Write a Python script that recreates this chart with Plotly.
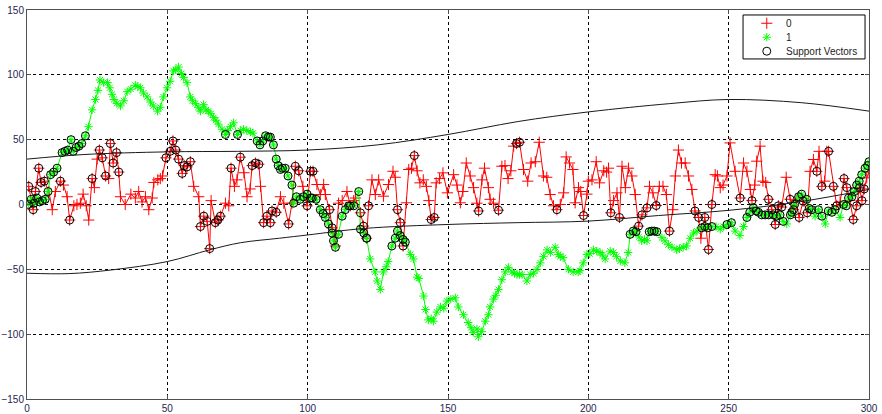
import plotly.graph_objects as go

# ---- class "0" samples (red) ----
red_x = [
    0.6, 1.9, 2.2, 3, 4.2, 5, 6.2, 7.8, 9, 10.1,
    11.9, 13, 14.3, 15.2, 16.7, 17.8, 19, 20, 21.1, 22,
    23.2, 24, 25, 25.8, 26.8, 28, 29.1, 29.7, 30.7, 31.9,
    32.7, 33.3, 35, 37, 38.6, 39.8, 41, 42.2, 43.4, 44.6,
    45.2, 46.6, 47.5, 48.3, 49.5, 51, 52, 53, 54, 55.3,
    56, 57, 58.2, 59.4, 61.2, 61.8, 63, 64.2, 65.1, 65.6,
    67.1, 68, 68.9, 70.7, 71.9, 72.7, 73.9, 74.8, 76, 77.3,
    78.4, 79.5, 80.2, 81.4, 82.6, 83.2, 84.3, 85.5, 86.7, 87.3,
    88.8, 90.3, 91.5, 93.2, 94.4, 95.6, 96.8, 98.3, 99.8, 101,
    101.9, 103.3, 104.5, 105.7, 106.3, 107.8, 108.7, 109.9, 111, 112.3,
    114, 115.2, 116.4, 117, 118.8, 119.9, 121, 121.7, 122.9, 124.1,
    125.3, 127, 128.8, 130.4, 131.2, 132, 133, 134, 135.2, 136,
    137, 138, 139, 140, 141.2, 142.3, 143.2, 144, 145.1, 145.8,
    147, 148.2, 149.8, 152, 153.2, 154.4, 155.3, 156.5, 157.9, 159.1,
    160.3, 160.9, 162.1, 163, 164.4, 165, 166.2, 168, 169.2, 170.3,
    171.4, 172.4, 173.4, 174.4, 175.5, 176.9, 178.4, 179.6, 181.1, 182.5,
    184, 185.2, 186.4, 187.6, 188.8, 190, 191.2, 192.1, 193.3, 194.5,
    195.3, 196.5, 197.3, 198.3, 199.5, 200, 201.3, 202.8, 204, 205.5,
    206.5, 207.2, 208, 209, 210.2, 211.1, 212, 213.2, 214.3, 215.5,
    216.7, 217.9, 219.1, 220.9, 221.8, 223, 224.2, 225.3, 226.6, 227.8,
    228.9, 230.1, 231, 232.1, 233.2, 234.5, 235.7, 236.9, 238, 239.3,
    240.1, 241.5, 242.8, 244, 245.2, 246, 247, 248, 249.4, 250.5,
    252.3, 254.1, 255.3, 256.5, 257.7, 258.3, 259.3, 260, 261.2, 262.2,
    263.2, 264.2, 265.4, 266.6, 267.7, 268.9, 270.5, 271.9, 273.1, 274,
    275.1, 276.5, 278, 279, 280.2, 281.4, 282.2, 283.2, 284.2, 285,
    285.6, 287.3, 288.5, 289.7, 291.1, 292.1, 293.2, 294.4, 295.6, 296.6,
    297.5, 298.3, 299.2, 300,
]
red_y = [
    14, 1, -4, 10, 28, 17, 18, 10, -4, 10,
    18, 15, 6, -12, -1, 0, 1, 8, -1, -12,
    20, 13, 35, 42, 36, 22, 20, 47, 32, 40,
    25, 6, 0, 8, 5, 10, 2, 6, -4, 5,
    17, 19, 20, 22, 36, 41, 49, 42, 35, 24,
    30, 29, 33, 14, 6, -17, -9, -13, -34, 3,
    -14, -12, -9, 1, -1, 28, 14, 19, 36.5, 24.5,
    6, 12, 30, 32, 31, 14, -14, -9, -14, -5,
    -6, 6, 1, -15, 1, 29.5, 26, 14, -1, 25.6,
    25.6, 15.4, 7.7, 15.4, 7.7, -4, -18, -32, 1, 3,
    10, -1, 3, 5, -6.4, -16.7, -26, -1, 19, 7.7,
    19, 6.4, 15.4, 25.6, 21, -4, -14, -32, 1.3, 27,
    28, 37.7, 26, 16.7, 19, 14, 3, -11.6, -10, 16.7,
    20, 24.4, 9, 23, 15, 1.3, 10, 32, 22, 13,
    1, -5, 19, 28, 13, 4, 1, -4.4, 29.5, 30,
    20, 26, 45, 47, 48, 27, 18, 32, 33, 48,
    22, 21, 7.7, -1, -4, 0, 9, 36.7, 32, 27,
    1.3, 13, 10, -8.5, 8, 18, 19, 33, 16.7, 26,
    25, 28, -6.4, 3, 9, -10, 29.5, 13, 28, 22,
    7.7, -16.7, -8, -2.6, 14, 9, -0.8, 14, 14, 7.7,
    -20.5, -4, 22, 42, 32, 32, 22, 11.6, -5, -10,
    -26, -10, -34.7, 0, 23, 22, 13, 15, 22, 47.5,
    25.6, 5, 32, 25.6, 11.6, 3, 15, 33.4, 45, 18,
    17, 4, -4, -15.4, -1, -2, 21, 4, -4, 3,
    -10, 2.6, -6.4, 25.6, 34.7, 25.6, 41, 14, 18, 41,
    41, 14, -1, 2, 20, 13, 3, -11.6, -1, 13,
    3, 12, 20.5, 25,
]
red_sv_x = [
    0.6, 2.2, 3, 4.2, 5, 6.2, 11.9, 15.2, 23.2, 25.8, 26.8, 28, 29.7, 30.7,
    31.9, 32.7, 49.5, 51, 52, 53, 54, 55.3, 56, 57, 58.2, 61.8, 63, 64.2,
    65.1, 67.1, 68, 68.9, 72.7, 76, 80.2, 81.4, 82.6, 84.3, 85.5, 86.7, 87.3,
    88.8, 93.2, 95.6, 96.8, 99.8, 101, 101.9, 107.8, 108.7, 115.2, 118.8,
    119.9, 121, 121.7, 132, 133, 134, 138, 144, 145.1, 160.9, 168, 174.4,
    175.5, 188.8, 198.3, 208, 211.1, 217.9, 219.1, 220.9, 224.2, 228.9, 238,
    239.3, 241.5, 242.8, 244, 254.1, 258.3, 264.2, 265.4, 266.6, 267.7,
    268.9, 271.9, 273.1, 275.1, 276.5, 278, 281.4, 283.2, 285.6, 287.3,
    288.5, 291.1, 292.1, 294.4, 295.6, 296.6, 297.5, 298.3,
]

# ---- class "1" samples (green) ----
green_x = [
    0.5, 1.5, 2.5, 3.5, 4.5, 5.5, 6.5, 7.5, 8.4, 9.5,
    10.7, 12.5, 13.5, 14.5, 15.7, 16.5, 17.5, 18.5, 19.5, 20.8,
    21.9, 23.2, 24.4, 25.3, 26, 27.3, 28.7, 29.5, 30.3, 31,
    32, 33.3, 34.5, 35.7, 37, 38.6, 39.5, 40.4, 41.5, 42.8,
    44, 45, 46.5, 47.5, 48.6, 49.9, 51, 52.2, 53, 54,
    55, 55.8, 57, 58.2, 59, 60, 61, 61.8, 62.9, 63.8,
    64.6, 65.5, 66.5, 67.3, 68.2, 69.5, 70.7, 71.5, 72.5, 73.6,
    75, 76, 77.1, 78.3, 79.6, 80.5, 82, 83, 84, 85,
    86, 86.7, 87.8, 88.8, 89.5, 90.3, 91, 92, 93, 94.4,
    95, 96, 97.4, 98.5, 99.8, 101, 101.6, 103, 104.5, 105.5,
    106.3, 107.4, 108.7, 109.2, 109.9, 111, 112.3, 113.4, 114.6, 116.4,
    118.2, 118.8, 120, 121, 122.3, 124, 124.8, 125.9, 127, 128,
    128.7, 130, 131.2, 132, 133, 134, 134.8, 136.6, 137.7, 139,
    139.6, 141.3, 142, 143, 144, 144.8, 146, 147.3, 148.5, 149.6,
    151, 152.6, 153.7, 155.5, 157.2, 158.2, 159, 160.3, 160.8, 162,
    163.3, 164.4, 165, 166.2, 167, 168, 169.2, 170.4, 171.5, 172.8,
    173.7, 174.6, 175.5, 176.4, 178.1, 179.3, 180.5, 181.7, 182.9, 184,
    185.3, 186.5, 188.2, 189.3, 190, 191, 192.9, 194.6, 196.4, 197,
    198.2, 199.5, 200.5, 201.8, 203, 204.2, 205, 206, 207.8, 209,
    210, 211.4, 213, 214.2, 214.9, 216, 217, 218, 219, 220,
    220.9, 221.7, 222.6, 223.5, 224.4, 226.2, 227.3, 228.5, 229.8, 231.5,
    232.5, 233.8, 235, 236.3, 237.5, 238.7, 240.4, 241.5, 242.5, 244,
    245.5, 247, 248.2, 249.4, 251, 252.3, 254, 255.3, 256.5, 257.5,
    258.8, 259.8, 260.6, 261.8, 263, 264.2, 265.9, 267, 268.3, 269.4,
    270.7, 272, 272.5, 273.5, 274.9, 276, 277.8, 278.7, 279.6, 280.8,
    282, 283.2, 284.4, 285.5, 286.8, 287.9, 289.7, 290.9, 291.9, 292.7,
    293.9, 294.8, 295.6, 296.5, 297.4, 298.6, 299.5, 300,
]
green_y = [
    0, 4, 1, 5, 2, 3, 4, 10, 23, 25,
    28, 40, 41, 42, 50, 41, 44, 45, 47, 53,
    60, 73, 81, 88, 96, 94, 94, 90, 85, 81,
    78, 76, 80, 87, 89, 92, 91, 90, 86, 83,
    79, 76, 72, 75, 83, 90, 95, 103, 104, 106,
    101, 98, 94, 83, 80, 78, 75, 72, 77, 73,
    72, 70, 67, 65, 62, 58, 54, 57, 60, 63,
    54, 57, 58, 57, 56, 55, 49, 46, 49, 53,
    52, 52, 46, 35, 30, 27, 28, 28, 22, 15,
    1, 6, 4, 6, 8, 5, 5, 4, -4, -7,
    -10, -15, -22, -28, -33, -23, -9, -4, -1, -1,
    10, -19, -22, -26, -42, -52, -59, -65.5, -52, -48,
    -44, -32, -26, -20.5, -24, -27, -29, -38.5, -42, -56,
    -57, -70.6, -81, -89, -88, -90, -83, -79, -80, -74.5,
    -73, -72, -79, -85, -91, -95, -98.6, -96, -102, -98,
    -90, -85, -79, -73, -70, -65.5, -58, -52, -48.5, -52,
    -53, -54, -54, -54, -59, -54, -53, -50, -45, -40,
    -35, -37, -33, -38.5, -40, -41, -50, -52, -52, -51,
    -45, -38.5, -38, -35, -36, -37, -39, -42, -36, -37,
    -40, -43.6, -45, -37, -23, -20.5, -21, -25, -28, -27,
    -28, -21, -20.5, -20.5, -21, -25.6, -28, -31, -33, -35,
    -34, -33, -32, -26, -22, -20.5, -18, -17, -18, -17,
    -17, -19, -17, -15.4, -14, -20.5, -24, -17, -10, -6,
    -2.5, -5, -6, -8, -8, -8, -8, -9, -8, -13,
    -15, -8, -6, 0, 6, 8, 4, -3, -4, -9,
    -4, -9, -15, -5, -6, -4, -10, 0, -1, 5,
    6, 10, 15, 18, 23, 28, 30, 33,
]
green_sv_x = [
    0.5, 1.5, 2.5, 3.5, 4.5, 5.5, 6.5, 7.5, 8.4, 9.5, 10.7, 12.5, 13.5, 14.5,
    15.7, 16.5, 17.5, 18.5, 19.5, 20.8, 70.7, 75, 82, 83, 84, 85, 86, 86.7,
    87.8, 88.8, 89.5, 90.3, 91, 92, 93, 94.4, 95, 96, 97.4, 98.5, 99.8, 101,
    101.6, 103, 104.5, 105.5, 106.3, 107.4, 108.7, 109.2, 109.9, 111, 112.3,
    113.4, 114.6, 116.4, 118.2, 118.8, 120, 121, 130, 131.2, 132, 133, 134,
    134.8, 214.9, 216, 217, 221.7, 222.6, 223.5, 224.4, 240.4, 241.5, 242.5,
    244, 249.4, 251, 256.5, 257.5, 258.8, 259.8, 260.6, 261.8, 263, 264.2,
    265.9, 267, 268.3, 269.4, 272, 272.5, 273.5, 274.9, 276, 277.8, 278.7,
    279.6, 282, 283.2, 285.5, 286.8, 287.9, 290.9, 291.9, 292.7, 293.9,
    294.8, 295.6, 296.5, 297.4, 298.6, 299.5, 300,
]

# ---- decision boundary (two branches of the zero contour) ----
upper_x = [0, 20, 50, 75, 100, 125, 150, 175, 200, 229, 250, 276, 300]
upper_y = [35, 38.5, 40.6, 41, 42, 46, 54, 64, 71.4, 77.8, 81, 78.5, 72]
lower_x = [0, 15, 30, 50, 65, 76, 90, 100, 120, 150, 175, 200, 225, 250, 275, 300]
lower_y = [-53, -53.3, -50.5, -44, -35, -29.5, -26, -23.5, -18.5, -15.4, -14,
           -12.8, -8.5, -4.5, 2, 11.6]

x_ticks = [0, 50, 100, 150, 200, 250, 300]
y_ticks = [-150, -100, -50, 0, 50, 100, 150]
legend_names = ["0", "1", "Support Vectors"]

RED = "#ff0000"
GREEN = "#00ff00"
LABEL = "#262650"
FONT = "Arial, Liberation Sans, sans-serif"

red_sv = set(red_sv_x)
green_sv = set(green_sv_x)
sv_x, sv_y = [], []
for xs, ys, sel in ((red_x, red_y, red_sv), (green_x, green_y, green_sv)):
    for xv, yv in zip(xs, ys):
        if xv in sel:
            sv_x.append(xv)
            sv_y.append(yv)

red_marker = dict(symbol="cross-thin", size=8, color=RED, line=dict(color=RED, width=1))
green_marker = dict(symbol="asterisk", size=7, color=GREEN, line=dict(color=GREEN, width=1))
sv_marker = dict(symbol="circle-open", size=8, color="black", line=dict(color="black", width=1))

fig = go.Figure()

fig.add_trace(go.Scatter(x=red_x, y=red_y, mode="lines+markers", showlegend=False,
                         line=dict(color=RED, width=1), marker=red_marker))
fig.add_trace(go.Scatter(x=green_x, y=green_y, mode="lines+markers", showlegend=False,
                         line=dict(color=GREEN, width=1), marker=green_marker))
fig.add_trace(go.Scatter(x=sv_x, y=sv_y, mode="markers", showlegend=False, marker=sv_marker))
for bx, by in ((upper_x, upper_y), (lower_x, lower_y)):
    fig.add_trace(go.Scatter(
        x=bx, y=by, mode="lines", showlegend=False,
        line=dict(color="#1a1a1a", width=1, shape="spline", smoothing=1.0),
    ))

# ---- compact boxed legend on an overlay axis spanning the plot area (0..1) ----
box_l, box_r, box_b, box_t = 0.8504, 0.9953, 0.8742, 0.9872
row_y = [0.9659, 0.9300, 0.8941]
sym_x = 0.8786
text_x = 0.8990

fig.add_trace(go.Scatter(
    x=[box_l, box_r, box_r, box_l, box_l], y=[box_b, box_b, box_t, box_t, box_b],
    xaxis="x2", yaxis="y2", mode="lines", fill="toself", fillcolor="white",
    line=dict(color="black", width=1), showlegend=False, hoverinfo="skip",
))
for yy, mk in zip(row_y, (red_marker, green_marker, sv_marker)):
    fig.add_trace(go.Scatter(x=[sym_x], y=[yy], xaxis="x2", yaxis="y2", mode="markers",
                             marker=mk, showlegend=False, hoverinfo="skip"))
for yy, name in zip(row_y, legend_names):
    fig.add_annotation(x=text_x, y=yy, xref="x2", yref="y2", text=name, showarrow=False,
                       xanchor="left", yanchor="middle",
                       font=dict(family=FONT, size=10, color="#222222"))

axis_common = dict(
    showgrid=True, gridcolor="black", gridwidth=1, griddash="dot",
    zeroline=False, showline=True, linecolor="#505050", linewidth=1,
    mirror="ticks", ticks="inside", ticklen=4, tickcolor="#505050",
    tickfont=dict(family=FONT, size=10, color=LABEL), automargin=False,
)

fig.update_layout(
    width=882, height=414,
    margin=dict(l=27, r=13, t=10, b=15),
    paper_bgcolor="white", plot_bgcolor="white",
    showlegend=False,
    xaxis=dict(range=[0, 300], tickvals=x_ticks, **axis_common),
    yaxis=dict(range=[-150, 150], tickvals=y_ticks, **axis_common),
    xaxis2=dict(overlaying="x", range=[0, 1], visible=False, fixedrange=True),
    yaxis2=dict(overlaying="y", range=[0, 1], visible=False, fixedrange=True),
)

fig.write_html("out.html")
